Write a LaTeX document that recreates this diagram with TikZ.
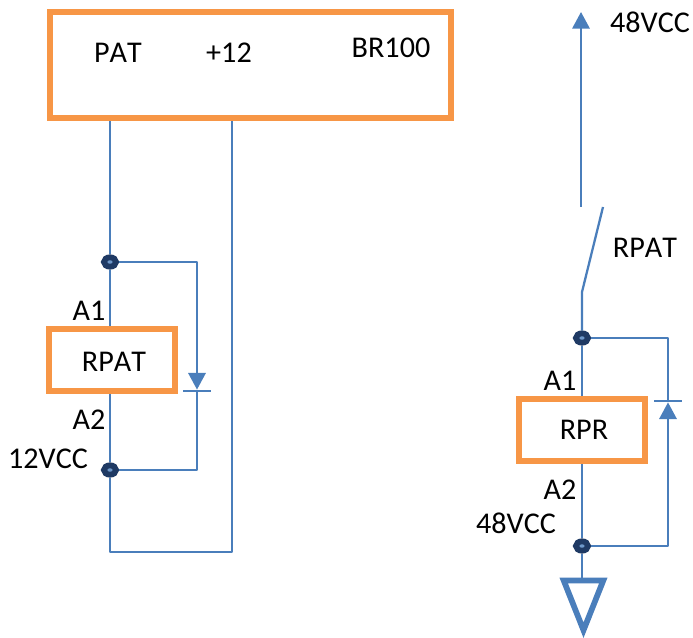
\documentclass[tikz,border=0pt]{standalone}
\usepackage{fontspec}
\setmainfont{Carlito}[Kerning=Off]
\usepackage{tikz}
\usetikzlibrary{arrows.meta}
\usetikzlibrary{shapes.geometric}
\definecolor{wire}{HTML}{4A7EBB}
\definecolor{frame}{HTML}{F79646}
\definecolor{dot}{HTML}{1F3A64}
\tikzset{>={Triangle[width=13pt,length=12.5pt]}}

\begin{document}
\begin{tikzpicture}[x=0.75pt, y=-0.75pt, wire/.style = {draw=wire, line width=1.7pt, line join=round},
  main/.style = {draw=frame, line width=4.5pt, fill=white, inner sep=0pt},
  junction/.style = {draw=dot, fill=wire!80!white, ellipse, line width=4.4pt, minimum width=9pt, minimum height=7pt, inner sep=0pt},
  bar/.style = {fill=wire, inner sep=0pt, minimum width=21pt, minimum height=1.7pt},
  lbl/.style = {font=\fontsize{22.6}{27}\selectfont, inner sep=0pt}]
\useasboundingbox (0,0) rectangle (693,638);
\node[main, minimum width=300.4pt, minimum height=79pt] (br) at (250.75,65) {};
\node[lbl] (pat) at (118,53) {PAT};
\node[lbl] (plus) at (229,53) {+12};
\node[lbl] (brname) at (391,48) {BR100};
\node[junction] (j1) at (110,262) {};
\node[junction] (j2) [below of=j1, node distance=156pt] {};
\node[main, minimum width=94pt, minimum height=47pt] (rpat) at (112,360) {};
\node[lbl] (rpatname) at (114,362) {RPAT};
\node[lbl] (a1) at (89,311) {A1};
\node[lbl] (a2) at (89,420) {A2};
\node[lbl] (v12) at (48,459) {12VCC};
\node[bar] (d1) at (197,391) {};
\coordinate (w) at (232,552);
\draw[wire] (j1) -- (j1 |- br.south);
\draw[wire] (j1) -- (j1 |- rpat.north);
\draw[wire] (j2) -- (j2 |- rpat.south);
\draw[wire] (j2) |- (w) -- (w |- br.south);
\draw[wire, ->] (j1) -| (d1);
\draw[wire] (d1) |- (j2);
\coordinate (top) at (581,12);
\coordinate (c1) at (581,207);
\coordinate (c2) at (603,207);
\coordinate (c3) at (582,292);
\node[lbl] (v48) at (650,22) {48VCC};
\node[lbl] (swname) at (645,248) {RPAT};
\node[junction] (j3) at (582,338) {};
\node[junction] (j4) [below of=j3, node distance=156pt] {};
\node[main, minimum width=94pt, minimum height=47pt] (rpr) at (582,430) {};
\node[lbl] (rprname) at (584,430) {RPR};
\node[lbl] (a3) at (560,381) {A1};
\node[lbl] (a4) at (560,490) {A2};
\node[lbl] (v48b) at (516,523) {48VCC};
\node[bar] (d2) at (668,401) {};
\coordinate (g1) at (563.7,580.5);
\coordinate (g2) at (603.3,580.5);
\coordinate (g3) at (583.5,630.2);
\draw[wire, ->] (c1) -- (top);
\draw[wire] (c2) -- (c3) -- (j3);
\draw[wire] (j3) -- (j3 |- rpr.north);
\draw[wire] (j4) -- (j4 |- rpr.south);
\draw[wire] (j3) -| (d2);
\draw[wire, ->] (j4) -| (d2);
\draw[wire] (j4) -- (j4 |- g1);
\draw[draw=wire, line width=4.3pt] (g1) -- (g2) -- (g3) -- cycle;
\end{tikzpicture}
\end{document}
